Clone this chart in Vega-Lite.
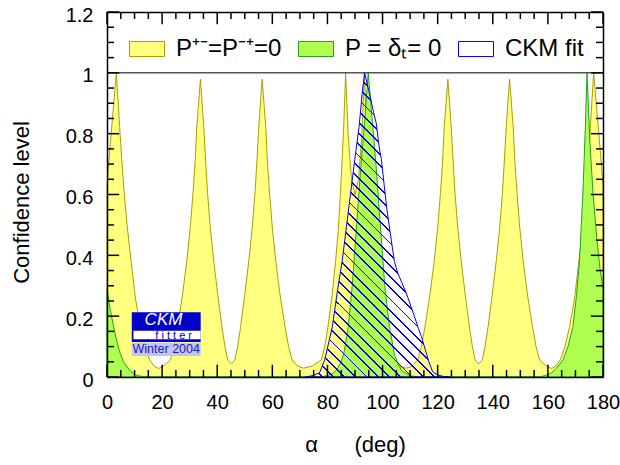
{
  "$schema": "https://vega.github.io/schema/vega-lite/v6.json",
  "autosize": "none",
  "width": 496,
  "height": 365,
  "padding": {"left": 107, "top": 12, "right": 17, "bottom": 88},
  "background": "white",
  "data": {"values": [
    {"series":"P⁺⁻=P⁻⁺=0","alpha":0,"cl":0.63},{"series":"P⁺⁻=P⁻⁺=0","alpha":1.5,"cl":0.80},{"series":"P⁺⁻=P⁻⁺=0","alpha":3.4,"cl":1.0},{"series":"P⁺⁻=P⁻⁺=0","alpha":4.6,"cl":0.82},{"series":"P⁺⁻=P⁻⁺=0","alpha":5.4,"cl":0.71},{"series":"P⁺⁻=P⁻⁺=0","alpha":6.3,"cl":0.60},{"series":"P⁺⁻=P⁻⁺=0","alpha":7.4,"cl":0.49},{"series":"P⁺⁻=P⁻⁺=0","alpha":8.7,"cl":0.385},{"series":"P⁺⁻=P⁻⁺=0","alpha":10.3,"cl":0.26},{"series":"P⁺⁻=P⁻⁺=0","alpha":12.1,"cl":0.166},{"series":"P⁺⁻=P⁻⁺=0","alpha":13.8,"cl":0.10},{"series":"P⁺⁻=P⁻⁺=0","alpha":15.5,"cl":0.056},{"series":"P⁺⁻=P⁻⁺=0","alpha":17.1,"cl":0.036},{"series":"P⁺⁻=P⁻⁺=0","alpha":18.7,"cl":0.028},{"series":"P⁺⁻=P⁻⁺=0","alpha":20.8,"cl":0.038},{"series":"P⁺⁻=P⁻⁺=0","alpha":23.0,"cl":0.056},{"series":"P⁺⁻=P⁻⁺=0","alpha":24.3,"cl":0.10},{"series":"P⁺⁻=P⁻⁺=0","alpha":25.6,"cl":0.166},{"series":"P⁺⁻=P⁻⁺=0","alpha":27.4,"cl":0.27},{"series":"P⁺⁻=P⁻⁺=0","alpha":29.0,"cl":0.385},{"series":"P⁺⁻=P⁻⁺=0","alpha":30.2,"cl":0.49},{"series":"P⁺⁻=P⁻⁺=0","alpha":31.2,"cl":0.604},{"series":"P⁺⁻=P⁻⁺=0","alpha":32.0,"cl":0.71},{"series":"P⁺⁻=P⁻⁺=0","alpha":32.6,"cl":0.824},{"series":"P⁺⁻=P⁻⁺=0","alpha":33.9,"cl":0.979},{"series":"P⁺⁻=P⁻⁺=0","alpha":35.1,"cl":0.824},{"series":"P⁺⁻=P⁻⁺=0","alpha":35.8,"cl":0.71},{"series":"P⁺⁻=P⁻⁺=0","alpha":36.5,"cl":0.604},{"series":"P⁺⁻=P⁻⁺=0","alpha":37.5,"cl":0.49},{"series":"P⁺⁻=P⁻⁺=0","alpha":38.7,"cl":0.385},{"series":"P⁺⁻=P⁻⁺=0","alpha":40.2,"cl":0.27},{"series":"P⁺⁻=P⁻⁺=0","alpha":41.7,"cl":0.166},{"series":"P⁺⁻=P⁻⁺=0","alpha":42.8,"cl":0.10},{"series":"P⁺⁻=P⁻⁺=0","alpha":43.8,"cl":0.056},{"series":"P⁺⁻=P⁻⁺=0","alpha":45.1,"cl":0.043},{"series":"P⁺⁻=P⁻⁺=0","alpha":46.4,"cl":0.056},{"series":"P⁺⁻=P⁻⁺=0","alpha":47.4,"cl":0.10},{"series":"P⁺⁻=P⁻⁺=0","alpha":48.5,"cl":0.166},{"series":"P⁺⁻=P⁻⁺=0","alpha":50.0,"cl":0.27},{"series":"P⁺⁻=P⁻⁺=0","alpha":51.5,"cl":0.385},{"series":"P⁺⁻=P⁻⁺=0","alpha":52.7,"cl":0.49},{"series":"P⁺⁻=P⁻⁺=0","alpha":53.7,"cl":0.604},{"series":"P⁺⁻=P⁻⁺=0","alpha":54.4,"cl":0.71},{"series":"P⁺⁻=P⁻⁺=0","alpha":55.1,"cl":0.824},{"series":"P⁺⁻=P⁻⁺=0","alpha":56.3,"cl":0.979},{"series":"P⁺⁻=P⁻⁺=0","alpha":57.6,"cl":0.824},{"series":"P⁺⁻=P⁻⁺=0","alpha":58.2,"cl":0.71},{"series":"P⁺⁻=P⁻⁺=0","alpha":59.0,"cl":0.604},{"series":"P⁺⁻=P⁻⁺=0","alpha":60.0,"cl":0.49},{"series":"P⁺⁻=P⁻⁺=0","alpha":61.2,"cl":0.385},{"series":"P⁺⁻=P⁻⁺=0","alpha":62.8,"cl":0.27},{"series":"P⁺⁻=P⁻⁺=0","alpha":64.6,"cl":0.166},{"series":"P⁺⁻=P⁻⁺=0","alpha":65.9,"cl":0.10},{"series":"P⁺⁻=P⁻⁺=0","alpha":67.2,"cl":0.056},{"series":"P⁺⁻=P⁻⁺=0","alpha":69.2,"cl":0.036},{"series":"P⁺⁻=P⁻⁺=0","alpha":71.4,"cl":0.029},{"series":"P⁺⁻=P⁻⁺=0","alpha":74.5,"cl":0.036},{"series":"P⁺⁻=P⁻⁺=0","alpha":77.8,"cl":0.056},{"series":"P⁺⁻=P⁻⁺=0","alpha":79.0,"cl":0.10},{"series":"P⁺⁻=P⁻⁺=0","alpha":80.2,"cl":0.166},{"series":"P⁺⁻=P⁻⁺=0","alpha":81.7,"cl":0.27},{"series":"P⁺⁻=P⁻⁺=0","alpha":83.0,"cl":0.385},{"series":"P⁺⁻=P⁻⁺=0","alpha":84.0,"cl":0.49},{"series":"P⁺⁻=P⁻⁺=0","alpha":84.7,"cl":0.604},{"series":"P⁺⁻=P⁻⁺=0","alpha":85.3,"cl":0.71},{"series":"P⁺⁻=P⁻⁺=0","alpha":85.9,"cl":0.824},{"series":"P⁺⁻=P⁻⁺=0","alpha":86.6,"cl":1.0},{"series":"P⁺⁻=P⁻⁺=0","alpha":87.5,"cl":0.80},{"series":"P⁺⁻=P⁻⁺=0","alpha":88.7,"cl":0.65},{"series":"P⁺⁻=P⁻⁺=0","alpha":90.0,"cl":0.60},
    {"series":"P⁺⁻=P⁻⁺=0","alpha":91.3,"cl":0.65},{"series":"P⁺⁻=P⁻⁺=0","alpha":92.5,"cl":0.80},{"series":"P⁺⁻=P⁻⁺=0","alpha":93.4,"cl":1.0},{"series":"P⁺⁻=P⁻⁺=0","alpha":94.1,"cl":0.824},{"series":"P⁺⁻=P⁻⁺=0","alpha":94.7,"cl":0.71},{"series":"P⁺⁻=P⁻⁺=0","alpha":95.3,"cl":0.604},{"series":"P⁺⁻=P⁻⁺=0","alpha":96.0,"cl":0.49},{"series":"P⁺⁻=P⁻⁺=0","alpha":97.0,"cl":0.385},{"series":"P⁺⁻=P⁻⁺=0","alpha":98.3,"cl":0.27},{"series":"P⁺⁻=P⁻⁺=0","alpha":99.8,"cl":0.166},{"series":"P⁺⁻=P⁻⁺=0","alpha":101.0,"cl":0.10},{"series":"P⁺⁻=P⁻⁺=0","alpha":102.2,"cl":0.056},{"series":"P⁺⁻=P⁻⁺=0","alpha":105.5,"cl":0.036},{"series":"P⁺⁻=P⁻⁺=0","alpha":108.6,"cl":0.029},{"series":"P⁺⁻=P⁻⁺=0","alpha":110.8,"cl":0.036},{"series":"P⁺⁻=P⁻⁺=0","alpha":112.8,"cl":0.056},{"series":"P⁺⁻=P⁻⁺=0","alpha":114.1,"cl":0.10},{"series":"P⁺⁻=P⁻⁺=0","alpha":115.4,"cl":0.166},{"series":"P⁺⁻=P⁻⁺=0","alpha":117.2,"cl":0.27},{"series":"P⁺⁻=P⁻⁺=0","alpha":118.8,"cl":0.385},{"series":"P⁺⁻=P⁻⁺=0","alpha":120.0,"cl":0.49},{"series":"P⁺⁻=P⁻⁺=0","alpha":121.0,"cl":0.604},{"series":"P⁺⁻=P⁻⁺=0","alpha":121.8,"cl":0.71},{"series":"P⁺⁻=P⁻⁺=0","alpha":122.4,"cl":0.824},{"series":"P⁺⁻=P⁻⁺=0","alpha":123.7,"cl":0.979},{"series":"P⁺⁻=P⁻⁺=0","alpha":124.9,"cl":0.824},{"series":"P⁺⁻=P⁻⁺=0","alpha":125.6,"cl":0.71},{"series":"P⁺⁻=P⁻⁺=0","alpha":126.3,"cl":0.604},{"series":"P⁺⁻=P⁻⁺=0","alpha":127.3,"cl":0.49},{"series":"P⁺⁻=P⁻⁺=0","alpha":128.5,"cl":0.385},{"series":"P⁺⁻=P⁻⁺=0","alpha":130.0,"cl":0.27},{"series":"P⁺⁻=P⁻⁺=0","alpha":131.5,"cl":0.166},{"series":"P⁺⁻=P⁻⁺=0","alpha":132.6,"cl":0.10},{"series":"P⁺⁻=P⁻⁺=0","alpha":133.6,"cl":0.056},{"series":"P⁺⁻=P⁻⁺=0","alpha":134.9,"cl":0.043},{"series":"P⁺⁻=P⁻⁺=0","alpha":136.2,"cl":0.056},{"series":"P⁺⁻=P⁻⁺=0","alpha":137.2,"cl":0.10},{"series":"P⁺⁻=P⁻⁺=0","alpha":138.3,"cl":0.166},{"series":"P⁺⁻=P⁻⁺=0","alpha":139.8,"cl":0.27},{"series":"P⁺⁻=P⁻⁺=0","alpha":141.3,"cl":0.385},{"series":"P⁺⁻=P⁻⁺=0","alpha":142.5,"cl":0.49},{"series":"P⁺⁻=P⁻⁺=0","alpha":143.5,"cl":0.604},{"series":"P⁺⁻=P⁻⁺=0","alpha":144.2,"cl":0.71},{"series":"P⁺⁻=P⁻⁺=0","alpha":144.9,"cl":0.824},{"series":"P⁺⁻=P⁻⁺=0","alpha":146.1,"cl":0.979},{"series":"P⁺⁻=P⁻⁺=0","alpha":147.4,"cl":0.824},{"series":"P⁺⁻=P⁻⁺=0","alpha":148.0,"cl":0.71},{"series":"P⁺⁻=P⁻⁺=0","alpha":148.8,"cl":0.604},{"series":"P⁺⁻=P⁻⁺=0","alpha":149.8,"cl":0.49},{"series":"P⁺⁻=P⁻⁺=0","alpha":151.0,"cl":0.385},{"series":"P⁺⁻=P⁻⁺=0","alpha":152.6,"cl":0.27},{"series":"P⁺⁻=P⁻⁺=0","alpha":154.4,"cl":0.166},{"series":"P⁺⁻=P⁻⁺=0","alpha":155.7,"cl":0.10},{"series":"P⁺⁻=P⁻⁺=0","alpha":157.0,"cl":0.056},{"series":"P⁺⁻=P⁻⁺=0","alpha":159.2,"cl":0.038},{"series":"P⁺⁻=P⁻⁺=0","alpha":161.3,"cl":0.028},{"series":"P⁺⁻=P⁻⁺=0","alpha":162.9,"cl":0.036},{"series":"P⁺⁻=P⁻⁺=0","alpha":164.5,"cl":0.056},{"series":"P⁺⁻=P⁻⁺=0","alpha":166.2,"cl":0.10},{"series":"P⁺⁻=P⁻⁺=0","alpha":167.9,"cl":0.166},{"series":"P⁺⁻=P⁻⁺=0","alpha":169.7,"cl":0.26},{"series":"P⁺⁻=P⁻⁺=0","alpha":171.3,"cl":0.385},{"series":"P⁺⁻=P⁻⁺=0","alpha":172.6,"cl":0.49},{"series":"P⁺⁻=P⁻⁺=0","alpha":173.7,"cl":0.60},{"series":"P⁺⁻=P⁻⁺=0","alpha":174.6,"cl":0.71},{"series":"P⁺⁻=P⁻⁺=0","alpha":175.4,"cl":0.82},{"series":"P⁺⁻=P⁻⁺=0","alpha":176.6,"cl":1.0},{"series":"P⁺⁻=P⁻⁺=0","alpha":178.5,"cl":0.80},{"series":"P⁺⁻=P⁻⁺=0","alpha":180,"cl":0.63},
    {"series":"P = δₜ= 0","alpha":0,"cl":0.29},{"series":"P = δₜ= 0","alpha":1.2,"cl":0.22},{"series":"P = δₜ= 0","alpha":2.4,"cl":0.166},{"series":"P = δₜ= 0","alpha":3.6,"cl":0.115},{"series":"P = δₜ= 0","alpha":4.8,"cl":0.077},{"series":"P = δₜ= 0","alpha":6.0,"cl":0.05},{"series":"P = δₜ= 0","alpha":7.3,"cl":0.033},{"series":"P = δₜ= 0","alpha":8.5,"cl":0.02},{"series":"P = δₜ= 0","alpha":9.7,"cl":0.011},{"series":"P = δₜ= 0","alpha":11.0,"cl":0.005},{"series":"P = δₜ= 0","alpha":12.5,"cl":0.002},{"series":"P = δₜ= 0","alpha":14,"cl":0},{"series":"P = δₜ= 0","alpha":78,"cl":0},{"series":"P = δₜ= 0","alpha":80,"cl":0.005},{"series":"P = δₜ= 0","alpha":82,"cl":0.012},{"series":"P = δₜ= 0","alpha":83.5,"cl":0.025},{"series":"P = δₜ= 0","alpha":85,"cl":0.05},{"series":"P = δₜ= 0","alpha":86.0,"cl":0.08},{"series":"P = δₜ= 0","alpha":87.6,"cl":0.166},{"series":"P = δₜ= 0","alpha":89.0,"cl":0.3},{"series":"P = δₜ= 0","alpha":90.6,"cl":0.5},{"series":"P = δₜ= 0","alpha":92.2,"cl":0.7},{"series":"P = δₜ= 0","alpha":93.6,"cl":0.85},{"series":"P = δₜ= 0","alpha":94.8,"cl":1.0},{"series":"P = δₜ= 0","alpha":96.2,"cl":0.85},{"series":"P = δₜ= 0","alpha":97.6,"cl":0.7},{"series":"P = δₜ= 0","alpha":99.2,"cl":0.5},{"series":"P = δₜ= 0","alpha":100.8,"cl":0.3},{"series":"P = δₜ= 0","alpha":102.5,"cl":0.166},{"series":"P = δₜ= 0","alpha":104.4,"cl":0.07},{"series":"P = δₜ= 0","alpha":105.8,"cl":0.04},{"series":"P = δₜ= 0","alpha":107,"cl":0.02},{"series":"P = δₜ= 0","alpha":110,"cl":0.004},{"series":"P = δₜ= 0","alpha":113,"cl":0},{"series":"P = δₜ= 0","alpha":157,"cl":0},{"series":"P = δₜ= 0","alpha":159,"cl":0.005},{"series":"P = δₜ= 0","alpha":161,"cl":0.012},{"series":"P = δₜ= 0","alpha":163,"cl":0.028},{"series":"P = δₜ= 0","alpha":165.5,"cl":0.056},{"series":"P = δₜ= 0","alpha":167.3,"cl":0.1},{"series":"P = δₜ= 0","alpha":169.1,"cl":0.166},{"series":"P = δₜ= 0","alpha":170.4,"cl":0.27},{"series":"P = δₜ= 0","alpha":171.5,"cl":0.385},{"series":"P = δₜ= 0","alpha":172.7,"cl":0.604},{"series":"P = δₜ= 0","alpha":173.6,"cl":0.824},{"series":"P = δₜ= 0","alpha":174.2,"cl":1.0},{"series":"P = δₜ= 0","alpha":175.2,"cl":0.78},{"series":"P = δₜ= 0","alpha":176.4,"cl":0.6},{"series":"P = δₜ= 0","alpha":177.8,"cl":0.45},{"series":"P = δₜ= 0","alpha":179,"cl":0.35},{"series":"P = δₜ= 0","alpha":180,"cl":0.29},
    {"series":"CKM fit","alpha":72,"cl":0},{"series":"CKM fit","alpha":75,"cl":0.005},{"series":"CKM fit","alpha":77.2,"cl":0.015},{"series":"CKM fit","alpha":79.0,"cl":0.056},{"series":"CKM fit","alpha":81.8,"cl":0.166},{"series":"CKM fit","alpha":83.5,"cl":0.275},{"series":"CKM fit","alpha":85.4,"cl":0.385},{"series":"CKM fit","alpha":86.9,"cl":0.494},{"series":"CKM fit","alpha":88.4,"cl":0.604},{"series":"CKM fit","alpha":89.9,"cl":0.714},{"series":"CKM fit","alpha":91.5,"cl":0.824},{"series":"CKM fit","alpha":92.6,"cl":0.933},{"series":"CKM fit","alpha":93.5,"cl":1.0},{"series":"CKM fit","alpha":95.3,"cl":0.93},{"series":"CKM fit","alpha":97.0,"cl":0.86},{"series":"CKM fit","alpha":97.7,"cl":0.835},{"series":"CKM fit","alpha":98.7,"cl":0.76},{"series":"CKM fit","alpha":99.6,"cl":0.714},{"series":"CKM fit","alpha":100.6,"cl":0.63},{"series":"CKM fit","alpha":101.6,"cl":0.55},{"series":"CKM fit","alpha":103.0,"cl":0.46},{"series":"CKM fit","alpha":104.3,"cl":0.38},{"series":"CKM fit","alpha":105.5,"cl":0.342},{"series":"CKM fit","alpha":107.0,"cl":0.31},{"series":"CKM fit","alpha":108.6,"cl":0.276},{"series":"CKM fit","alpha":110.0,"cl":0.24},{"series":"CKM fit","alpha":111.6,"cl":0.198},{"series":"CKM fit","alpha":113.0,"cl":0.16},{"series":"CKM fit","alpha":114.1,"cl":0.133},{"series":"CKM fit","alpha":115.5,"cl":0.09},{"series":"CKM fit","alpha":116.8,"cl":0.05},{"series":"CKM fit","alpha":118.2,"cl":0.017},{"series":"CKM fit","alpha":120.0,"cl":0.007},{"series":"CKM fit","alpha":122.0,"cl":0.002},{"series":"CKM fit","alpha":124.3,"cl":0}
  ]},
  "resolve": {"axis": {"x": "independent", "y": "independent"}},
  "layer": [
    {
      "transform": [{"filter": "datum.series === 'P⁺⁻=P⁻⁺=0'"}],
      "mark": {"type": "area", "strokeWidth": 1, "opacity": 1},
      "encoding": {
        "x": {"field": "alpha", "type": "quantitative", "scale": {"domain": [0, 180], "nice": false, "zero": false},
          "axis": {"orient": "bottom", "zindex": 1, "values": [0,20,40,60,80,100,120,140,160,180], "format": "d", "ticks": false, "labelPadding": 15, "title": "α\u00a0\u00a0\u00a0\u00a0\u00a0\u00a0(deg)", "titlePadding": 22, "domain": true}},
        "y": {"field": "cl", "type": "quantitative", "stack": null, "scale": {"domain": [0, 1.2], "nice": false, "zero": false},
          "axis": {"orient": "left", "zindex": 1, "values": [0,0.2,0.4,0.6,0.8,1,1.2], "format": "~g", "ticks": false, "labelPadding": 14, "labelOffset": 3, "title": "Confidence level", "titlePadding": 32, "titleY": 190, "domain": true}},
        "fill": {"field": "series", "type": "nominal",
          "scale": {"domain": ["P⁺⁻=P⁻⁺=0", "P = δₜ= 0", "CKM fit"], "range": ["#ffff80", "#b0ff50", "#ffffff"]},
          "legend": {"orient": "none", "legendX": 22, "legendY": 19, "direction": "horizontal", "columns": 3, "title": null, "padding": 0,
            "labelFont": "Liberation Sans", "labelFontSize": 24, "labelColor": "#000", "labelOffset": 11, "columnPadding": 14,
            "symbolType": "M-1,-0.43H1V0.43H-1Z", "symbolSize": 1225, "symbolStrokeWidth": 1, "symbolOpacity": 1,
            "encode": {"symbols": {"update": {"fill": {"signal": "datum.value === 'CKM fit' ? {gradient: 'linear', x1: 0, y1: 1, x2: 1.207, y2: 0.481, stops: [{offset: 0.0653, color: 'rgba(0,0,0,0)'}, {offset: 0.0653, color: '#00e'}, {offset: 0.1013, color: '#00e'}, {offset: 0.1013, color: 'rgba(0,0,0,0)'}, {offset: 0.232, color: 'rgba(0,0,0,0)'}, {offset: 0.232, color: '#00e'}, {offset: 0.268, color: '#00e'}, {offset: 0.268, color: 'rgba(0,0,0,0)'}, {offset: 0.3987, color: 'rgba(0,0,0,0)'}, {offset: 0.3987, color: '#00e'}, {offset: 0.4347, color: '#00e'}, {offset: 0.4347, color: 'rgba(0,0,0,0)'}, {offset: 0.5653, color: 'rgba(0,0,0,0)'}, {offset: 0.5653, color: '#00e'}, {offset: 0.6013, color: '#00e'}, {offset: 0.6013, color: 'rgba(0,0,0,0)'}, {offset: 0.732, color: 'rgba(0,0,0,0)'}, {offset: 0.732, color: '#00e'}, {offset: 0.768, color: '#00e'}, {offset: 0.768, color: 'rgba(0,0,0,0)'}, {offset: 0.8987, color: 'rgba(0,0,0,0)'}, {offset: 0.8987, color: '#00e'}, {offset: 0.9347, color: '#00e'}, {offset: 0.9347, color: 'rgba(0,0,0,0)'}]} : scale('fill', datum.value)"}}}}}},
        "stroke": {"field": "series", "type": "nominal",
          "scale": {"domain": ["P⁺⁻=P⁻⁺=0", "P = δₜ= 0", "CKM fit"], "range": ["#a8a000", "#22a022", "#0000ff"]},
          "legend": {"orient": "none", "legendX": 22, "legendY": 19, "direction": "horizontal", "columns": 3, "title": null, "padding": 0,
            "labelFont": "Liberation Sans", "labelFontSize": 24, "labelColor": "#000", "labelOffset": 11, "columnPadding": 14,
            "symbolType": "M-1,-0.43H1V0.43H-1Z", "symbolSize": 1225, "symbolStrokeWidth": 1, "symbolOpacity": 1}}
      }
    },
    {
      "transform": [{"filter": "datum.series === 'P = δₜ= 0'"}],
      "mark": {"type": "area", "strokeWidth": 1, "opacity": 1},
      "encoding": {
        "x": {"field": "alpha", "type": "quantitative", "axis": null, "scale": {"domain": [0, 180], "nice": false, "zero": false}},
        "y": {"field": "cl", "type": "quantitative", "stack": null, "axis": null, "scale": {"domain": [0, 1.2], "nice": false, "zero": false}},
        "fill": {"field": "series", "type": "nominal", "legend": null},
        "stroke": {"field": "series", "type": "nominal", "legend": null}
      }
    },
    {
      "transform": [{"filter": "datum.series === 'CKM fit'"}],
      "mark": {"type": "area", "strokeWidth": 1, "opacity": 1,
        "fill": {"gradient": "linear", "x1": 0, "y1": 1, "x2": 0.57, "y2": -0.204, "stops": [
          {"offset":0.0105,"color":"rgba(0,0,0,0)"},{"offset":0.0105,"color":"#00e"},{"offset":0.0145,"color":"#00e"},{"offset":0.0145,"color":"rgba(0,0,0,0)"},
          {"offset":0.0355,"color":"rgba(0,0,0,0)"},{"offset":0.0355,"color":"#00e"},{"offset":0.0395,"color":"#00e"},{"offset":0.0395,"color":"rgba(0,0,0,0)"},
          {"offset":0.0605,"color":"rgba(0,0,0,0)"},{"offset":0.0605,"color":"#00e"},{"offset":0.0645,"color":"#00e"},{"offset":0.0645,"color":"rgba(0,0,0,0)"},
          {"offset":0.0855,"color":"rgba(0,0,0,0)"},{"offset":0.0855,"color":"#00e"},{"offset":0.0895,"color":"#00e"},{"offset":0.0895,"color":"rgba(0,0,0,0)"},
          {"offset":0.1105,"color":"rgba(0,0,0,0)"},{"offset":0.1105,"color":"#00e"},{"offset":0.1145,"color":"#00e"},{"offset":0.1145,"color":"rgba(0,0,0,0)"},
          {"offset":0.1355,"color":"rgba(0,0,0,0)"},{"offset":0.1355,"color":"#00e"},{"offset":0.1395,"color":"#00e"},{"offset":0.1395,"color":"rgba(0,0,0,0)"},
          {"offset":0.1605,"color":"rgba(0,0,0,0)"},{"offset":0.1605,"color":"#00e"},{"offset":0.1645,"color":"#00e"},{"offset":0.1645,"color":"rgba(0,0,0,0)"},
          {"offset":0.1855,"color":"rgba(0,0,0,0)"},{"offset":0.1855,"color":"#00e"},{"offset":0.1895,"color":"#00e"},{"offset":0.1895,"color":"rgba(0,0,0,0)"},
          {"offset":0.2105,"color":"rgba(0,0,0,0)"},{"offset":0.2105,"color":"#00e"},{"offset":0.2145,"color":"#00e"},{"offset":0.2145,"color":"rgba(0,0,0,0)"},
          {"offset":0.2355,"color":"rgba(0,0,0,0)"},{"offset":0.2355,"color":"#00e"},{"offset":0.2395,"color":"#00e"},{"offset":0.2395,"color":"rgba(0,0,0,0)"},
          {"offset":0.2605,"color":"rgba(0,0,0,0)"},{"offset":0.2605,"color":"#00e"},{"offset":0.2645,"color":"#00e"},{"offset":0.2645,"color":"rgba(0,0,0,0)"},
          {"offset":0.2855,"color":"rgba(0,0,0,0)"},{"offset":0.2855,"color":"#00e"},{"offset":0.2895,"color":"#00e"},{"offset":0.2895,"color":"rgba(0,0,0,0)"},
          {"offset":0.3105,"color":"rgba(0,0,0,0)"},{"offset":0.3105,"color":"#00e"},{"offset":0.3145,"color":"#00e"},{"offset":0.3145,"color":"rgba(0,0,0,0)"},
          {"offset":0.3355,"color":"rgba(0,0,0,0)"},{"offset":0.3355,"color":"#00e"},{"offset":0.3395,"color":"#00e"},{"offset":0.3395,"color":"rgba(0,0,0,0)"},
          {"offset":0.3605,"color":"rgba(0,0,0,0)"},{"offset":0.3605,"color":"#00e"},{"offset":0.3645,"color":"#00e"},{"offset":0.3645,"color":"rgba(0,0,0,0)"},
          {"offset":0.3855,"color":"rgba(0,0,0,0)"},{"offset":0.3855,"color":"#00e"},{"offset":0.3895,"color":"#00e"},{"offset":0.3895,"color":"rgba(0,0,0,0)"},
          {"offset":0.4105,"color":"rgba(0,0,0,0)"},{"offset":0.4105,"color":"#00e"},{"offset":0.4145,"color":"#00e"},{"offset":0.4145,"color":"rgba(0,0,0,0)"},
          {"offset":0.4355,"color":"rgba(0,0,0,0)"},{"offset":0.4355,"color":"#00e"},{"offset":0.4395,"color":"#00e"},{"offset":0.4395,"color":"rgba(0,0,0,0)"},
          {"offset":0.4605,"color":"rgba(0,0,0,0)"},{"offset":0.4605,"color":"#00e"},{"offset":0.4645,"color":"#00e"},{"offset":0.4645,"color":"rgba(0,0,0,0)"},
          {"offset":0.4855,"color":"rgba(0,0,0,0)"},{"offset":0.4855,"color":"#00e"},{"offset":0.4895,"color":"#00e"},{"offset":0.4895,"color":"rgba(0,0,0,0)"},
          {"offset":0.5105,"color":"rgba(0,0,0,0)"},{"offset":0.5105,"color":"#00e"},{"offset":0.5145,"color":"#00e"},{"offset":0.5145,"color":"rgba(0,0,0,0)"},
          {"offset":0.5355,"color":"rgba(0,0,0,0)"},{"offset":0.5355,"color":"#00e"},{"offset":0.5395,"color":"#00e"},{"offset":0.5395,"color":"rgba(0,0,0,0)"},
          {"offset":0.5605,"color":"rgba(0,0,0,0)"},{"offset":0.5605,"color":"#00e"},{"offset":0.5645,"color":"#00e"},{"offset":0.5645,"color":"rgba(0,0,0,0)"},
          {"offset":0.5855,"color":"rgba(0,0,0,0)"},{"offset":0.5855,"color":"#00e"},{"offset":0.5895,"color":"#00e"},{"offset":0.5895,"color":"rgba(0,0,0,0)"},
          {"offset":0.6105,"color":"rgba(0,0,0,0)"},{"offset":0.6105,"color":"#00e"},{"offset":0.6145,"color":"#00e"},{"offset":0.6145,"color":"rgba(0,0,0,0)"},
          {"offset":0.6355,"color":"rgba(0,0,0,0)"},{"offset":0.6355,"color":"#00e"},{"offset":0.6395,"color":"#00e"},{"offset":0.6395,"color":"rgba(0,0,0,0)"},
          {"offset":0.6605,"color":"rgba(0,0,0,0)"},{"offset":0.6605,"color":"#00e"},{"offset":0.6645,"color":"#00e"},{"offset":0.6645,"color":"rgba(0,0,0,0)"},
          {"offset":0.6855,"color":"rgba(0,0,0,0)"},{"offset":0.6855,"color":"#00e"},{"offset":0.6895,"color":"#00e"},{"offset":0.6895,"color":"rgba(0,0,0,0)"},
          {"offset":0.7105,"color":"rgba(0,0,0,0)"},{"offset":0.7105,"color":"#00e"},{"offset":0.7145,"color":"#00e"},{"offset":0.7145,"color":"rgba(0,0,0,0)"},
          {"offset":0.7355,"color":"rgba(0,0,0,0)"},{"offset":0.7355,"color":"#00e"},{"offset":0.7395,"color":"#00e"},{"offset":0.7395,"color":"rgba(0,0,0,0)"},
          {"offset":0.7605,"color":"rgba(0,0,0,0)"},{"offset":0.7605,"color":"#00e"},{"offset":0.7645,"color":"#00e"},{"offset":0.7645,"color":"rgba(0,0,0,0)"},
          {"offset":0.7855,"color":"rgba(0,0,0,0)"},{"offset":0.7855,"color":"#00e"},{"offset":0.7895,"color":"#00e"},{"offset":0.7895,"color":"rgba(0,0,0,0)"},
          {"offset":0.8105,"color":"rgba(0,0,0,0)"},{"offset":0.8105,"color":"#00e"},{"offset":0.8145,"color":"#00e"},{"offset":0.8145,"color":"rgba(0,0,0,0)"},
          {"offset":0.8355,"color":"rgba(0,0,0,0)"},{"offset":0.8355,"color":"#00e"},{"offset":0.8395,"color":"#00e"},{"offset":0.8395,"color":"rgba(0,0,0,0)"},
          {"offset":0.8605,"color":"rgba(0,0,0,0)"},{"offset":0.8605,"color":"#00e"},{"offset":0.8645,"color":"#00e"},{"offset":0.8645,"color":"rgba(0,0,0,0)"},
          {"offset":0.8855,"color":"rgba(0,0,0,0)"},{"offset":0.8855,"color":"#00e"},{"offset":0.8895,"color":"#00e"},{"offset":0.8895,"color":"rgba(0,0,0,0)"},
          {"offset":0.9105,"color":"rgba(0,0,0,0)"},{"offset":0.9105,"color":"#00e"},{"offset":0.9145,"color":"#00e"},{"offset":0.9145,"color":"rgba(0,0,0,0)"},
          {"offset":0.9355,"color":"rgba(0,0,0,0)"},{"offset":0.9355,"color":"#00e"},{"offset":0.9395,"color":"#00e"},{"offset":0.9395,"color":"rgba(0,0,0,0)"},
          {"offset":0.9605,"color":"rgba(0,0,0,0)"},{"offset":0.9605,"color":"#00e"},{"offset":0.9645,"color":"#00e"},{"offset":0.9645,"color":"rgba(0,0,0,0)"},
          {"offset":0.9855,"color":"rgba(0,0,0,0)"},{"offset":0.9855,"color":"#00e"},{"offset":0.9895,"color":"#00e"},{"offset":0.9895,"color":"rgba(0,0,0,0)"}
        ]}},
      "encoding": {
        "x": {"field": "alpha", "type": "quantitative", "axis": null, "scale": {"domain": [0, 180], "nice": false, "zero": false}},
        "y": {"field": "cl", "type": "quantitative", "stack": null, "axis": null, "scale": {"domain": [0, 1.2], "nice": false, "zero": false}},
        "stroke": {"field": "series", "type": "nominal", "legend": null}
      }
    },
    {
      "data": {"values": [{}]},
      "mark": {"type": "rule", "color": "#000", "strokeWidth": 1},
      "encoding": {
        "x": {"datum": 0, "type": "quantitative", "scale": {"domain": [0, 180], "nice": false, "zero": false},
          "axis": {"orient": "bottom", "offset": -365, "zindex": 1, "values": [0,180], "ticks": false, "labels": false, "title": null, "domain": true}},
        "x2": {"datum": 180},
        "y": {"datum": 1, "type": "quantitative", "scale": {"domain": [0, 1.2], "nice": false, "zero": false},
          "axis": {"orient": "left", "offset": -496, "zindex": 1, "values": [0,1.2], "ticks": false, "labels": false, "title": null, "domain": true}}
      }
    },
    {
      "data": {"values": [{"t":0},{"t":20},{"t":40},{"t":60},{"t":80},{"t":100},{"t":120},{"t":140},{"t":160},{"t":180}]},
      "mark": {"type": "rule", "color": "#000", "strokeWidth": 1.5},
      "encoding": {
        "x": {"field": "t", "type": "quantitative", "axis": null, "scale": {"domain": [0, 180], "nice": false, "zero": false}},
        "y": {"datum": 0, "type": "quantitative", "axis": null, "scale": {"domain": [0, 1.2], "nice": false, "zero": false}},
        "y2": {"datum": 0.04}
      }
    },
    {
      "data": {"values": [{"t":0},{"t":20},{"t":40},{"t":60},{"t":80},{"t":100},{"t":120},{"t":140},{"t":160},{"t":180}]},
      "mark": {"type": "rule", "color": "#000", "strokeWidth": 1.5},
      "encoding": {
        "x": {"field": "t", "type": "quantitative", "axis": null, "scale": {"domain": [0, 180], "nice": false, "zero": false}},
        "y": {"datum": 1.2, "type": "quantitative", "axis": null, "scale": {"domain": [0, 1.2], "nice": false, "zero": false}},
        "y2": {"datum": 1.16}
      }
    },
    {
      "data": {"values": [{"t":5},{"t":10},{"t":15},{"t":25},{"t":30},{"t":35},{"t":45},{"t":50},{"t":55},{"t":65},{"t":70},{"t":75},{"t":85},{"t":90},{"t":95},{"t":105},{"t":110},{"t":115},{"t":125},{"t":130},{"t":135},{"t":145},{"t":150},{"t":155},{"t":165},{"t":170},{"t":175}]},
      "mark": {"type": "rule", "color": "#000", "strokeWidth": 1.5},
      "encoding": {
        "x": {"field": "t", "type": "quantitative", "axis": null, "scale": {"domain": [0, 180], "nice": false, "zero": false}},
        "y": {"datum": 0, "type": "quantitative", "axis": null, "scale": {"domain": [0, 1.2], "nice": false, "zero": false}},
        "y2": {"datum": 0.023}
      }
    },
    {
      "data": {"values": [{"t":5},{"t":10},{"t":15},{"t":25},{"t":30},{"t":35},{"t":45},{"t":50},{"t":55},{"t":65},{"t":70},{"t":75},{"t":85},{"t":90},{"t":95},{"t":105},{"t":110},{"t":115},{"t":125},{"t":130},{"t":135},{"t":145},{"t":150},{"t":155},{"t":165},{"t":170},{"t":175}]},
      "mark": {"type": "rule", "color": "#000", "strokeWidth": 1.5},
      "encoding": {
        "x": {"field": "t", "type": "quantitative", "axis": null, "scale": {"domain": [0, 180], "nice": false, "zero": false}},
        "y": {"datum": 1.2, "type": "quantitative", "axis": null, "scale": {"domain": [0, 1.2], "nice": false, "zero": false}},
        "y2": {"datum": 1.177}
      }
    },
    {
      "data": {"values": [{"t":0},{"t":0.2},{"t":0.4},{"t":0.6},{"t":0.8},{"t":1},{"t":1.2}]},
      "mark": {"type": "rule", "color": "#000", "strokeWidth": 1.5},
      "encoding": {
        "y": {"field": "t", "type": "quantitative", "axis": null, "scale": {"domain": [0, 1.2], "nice": false, "zero": false}},
        "x": {"datum": 0, "type": "quantitative", "axis": null, "scale": {"domain": [0, 180], "nice": false, "zero": false}},
        "x2": {"datum": 4.4}
      }
    },
    {
      "data": {"values": [{"t":0},{"t":0.2},{"t":0.4},{"t":0.6},{"t":0.8},{"t":1},{"t":1.2}]},
      "mark": {"type": "rule", "color": "#000", "strokeWidth": 1.5},
      "encoding": {
        "y": {"field": "t", "type": "quantitative", "axis": null, "scale": {"domain": [0, 1.2], "nice": false, "zero": false}},
        "x": {"datum": 180, "type": "quantitative", "axis": null, "scale": {"domain": [0, 180], "nice": false, "zero": false}},
        "x2": {"datum": 175.6}
      }
    },
    {
      "data": {"values": [{"t":0.05},{"t":0.1},{"t":0.15},{"t":0.25},{"t":0.3},{"t":0.35},{"t":0.45},{"t":0.5},{"t":0.55},{"t":0.65},{"t":0.7},{"t":0.75},{"t":0.85},{"t":0.9},{"t":0.95},{"t":1.05},{"t":1.1},{"t":1.15}]},
      "mark": {"type": "rule", "color": "#000", "strokeWidth": 1.5},
      "encoding": {
        "y": {"field": "t", "type": "quantitative", "axis": null, "scale": {"domain": [0, 1.2], "nice": false, "zero": false}},
        "x": {"datum": 0, "type": "quantitative", "axis": null, "scale": {"domain": [0, 180], "nice": false, "zero": false}},
        "x2": {"datum": 2.55}
      }
    },
    {
      "data": {"values": [{"t":0.05},{"t":0.1},{"t":0.15},{"t":0.25},{"t":0.3},{"t":0.35},{"t":0.45},{"t":0.5},{"t":0.55},{"t":0.65},{"t":0.7},{"t":0.75},{"t":0.85},{"t":0.9},{"t":0.95},{"t":1.05},{"t":1.1},{"t":1.15}]},
      "mark": {"type": "rule", "color": "#000", "strokeWidth": 1.5},
      "encoding": {
        "y": {"field": "t", "type": "quantitative", "axis": null, "scale": {"domain": [0, 1.2], "nice": false, "zero": false}},
        "x": {"datum": 180, "type": "quantitative", "axis": null, "scale": {"domain": [0, 180], "nice": false, "zero": false}},
        "x2": {"datum": 177.45}
      }
    },
    {
      "data": {"values": [{"a1": 9.0, "a2": 34.0, "c1": 0.115, "c2": 0.213}]},
      "mark": {"type": "rect", "color": "#0000c8"},
      "encoding": {
        "x": {"field": "a1", "type": "quantitative", "axis": null, "scale": {"domain": [0, 180], "nice": false, "zero": false}},
        "x2": {"field": "a2"},
        "y": {"field": "c1", "type": "quantitative", "axis": null, "scale": {"domain": [0, 1.2], "nice": false, "zero": false}},
        "y2": {"field": "c2"}
      }
    },
    {
      "data": {"values": [{"a1": 9.6, "a2": 34.0, "c1": 0.124, "c2": 0.152}]},
      "mark": {"type": "rect", "color": "#ffffff"},
      "encoding": {
        "x": {"field": "a1", "type": "quantitative", "axis": null, "scale": {"domain": [0, 180], "nice": false, "zero": false}},
        "x2": {"field": "a2"},
        "y": {"field": "c1", "type": "quantitative", "axis": null, "scale": {"domain": [0, 1.2], "nice": false, "zero": false}},
        "y2": {"field": "c2"}
      }
    },
    {
      "data": {"values": [{"a1": 9.0, "a2": 34.0, "c1": 0.069, "c2": 0.113}]},
      "mark": {"type": "rect", "color": "#c4c4f4"},
      "encoding": {
        "x": {"field": "a1", "type": "quantitative", "axis": null, "scale": {"domain": [0, 180], "nice": false, "zero": false}},
        "x2": {"field": "a2"},
        "y": {"field": "c1", "type": "quantitative", "axis": null, "scale": {"domain": [0, 1.2], "nice": false, "zero": false}},
        "y2": {"field": "c2"}
      }
    },
    {
      "data": {"values": [{"a": 20.5, "c": 0.186, "t": "CKM"}]},
      "mark": {"type": "text", "color": "#ffffff", "font": "Liberation Sans", "fontSize": 17, "fontStyle": "italic", "baseline": "middle", "align": "center"},
      "encoding": {
        "x": {"field": "a", "type": "quantitative", "axis": null, "scale": {"domain": [0, 180], "nice": false, "zero": false}},
        "y": {"field": "c", "type": "quantitative", "axis": null, "scale": {"domain": [0, 1.2], "nice": false, "zero": false}},
        "text": {"field": "t"}
      }
    },
    {
      "data": {"values": [{"a": 24.2, "c": 0.135, "t": "f i t t e r"}]},
      "mark": {"type": "text", "color": "#0000c8", "font": "Liberation Sans", "fontSize": 11, "baseline": "middle", "align": "center"},
      "encoding": {
        "x": {"field": "a", "type": "quantitative", "axis": null, "scale": {"domain": [0, 180], "nice": false, "zero": false}},
        "y": {"field": "c", "type": "quantitative", "axis": null, "scale": {"domain": [0, 1.2], "nice": false, "zero": false}},
        "text": {"field": "t"}
      }
    },
    {
      "data": {"values": [{"a": 21.5, "c": 0.091, "t": "Winter 2004"}]},
      "mark": {"type": "text", "color": "#1a1ac0", "font": "Liberation Sans", "fontSize": 12.5, "baseline": "middle", "align": "center"},
      "encoding": {
        "x": {"field": "a", "type": "quantitative", "axis": null, "scale": {"domain": [0, 180], "nice": false, "zero": false}},
        "y": {"field": "c", "type": "quantitative", "axis": null, "scale": {"domain": [0, 1.2], "nice": false, "zero": false}},
        "text": {"field": "t"}
      }
    }
  ],
  "config": {
    "view": {"stroke": null},
    "axis": {"labelFont": "Liberation Sans", "labelFontSize": 20, "labelColor": "#000", "domainColor": "#000", "domainWidth": 1.5, "grid": false, "titleFont": "Liberation Sans", "titleFontSize": 22, "titleFontWeight": "normal", "titleColor": "#000", "labelFlush": false, "labelOverlap": false}
  }
}
